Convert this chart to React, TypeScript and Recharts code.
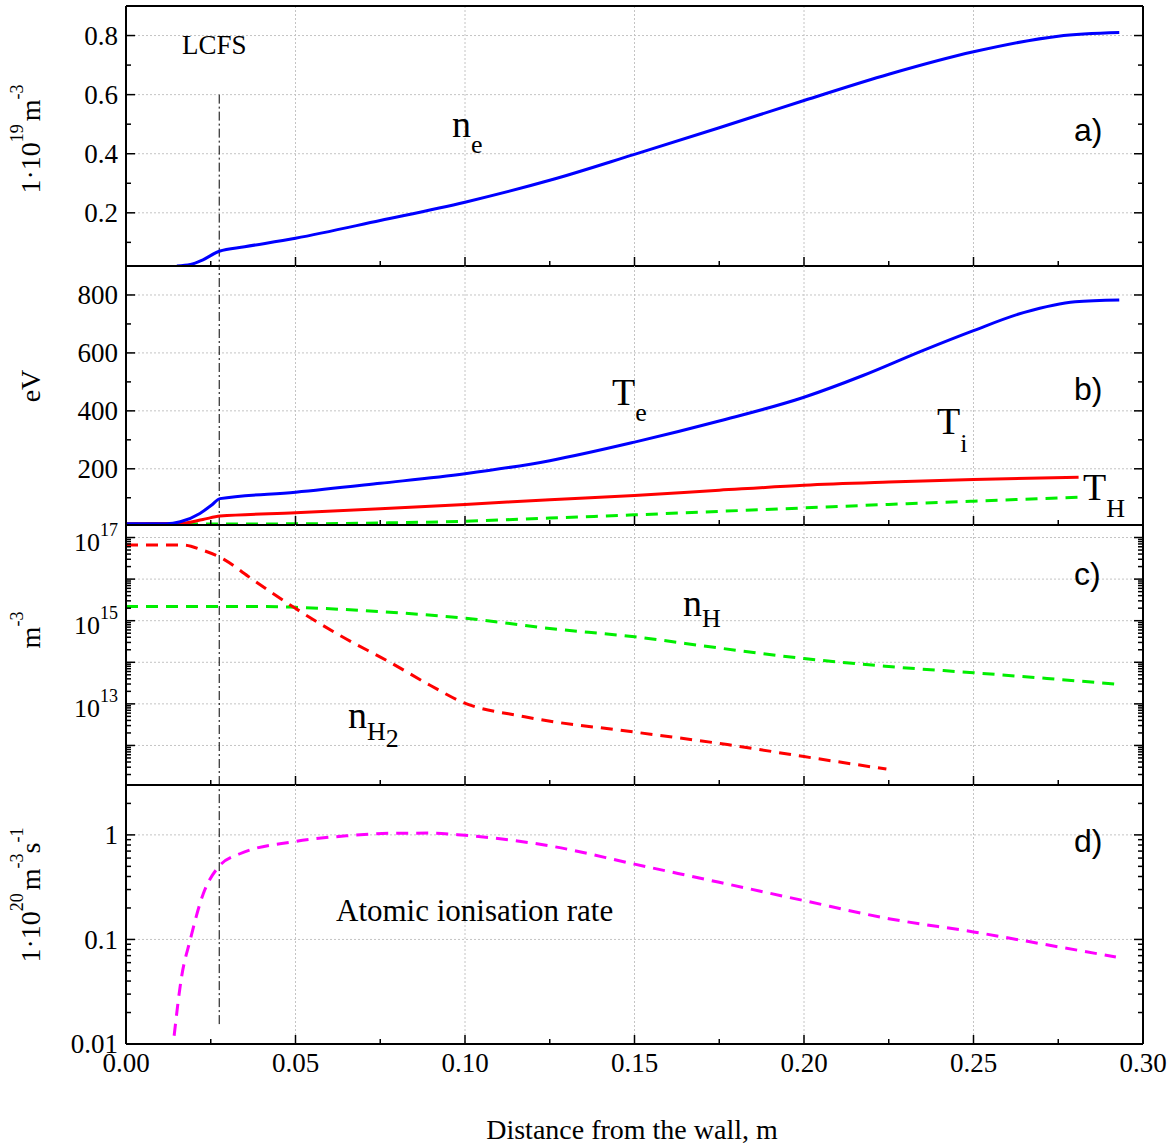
import React from 'react';
import { LineChart, Line, XAxis, YAxis, CartesianGrid, ReferenceLine } from 'recharts';

const SERIF = '"Liberation Serif", "Times New Roman", Times, serif';
const SANS = '"Liberation Sans", Arial, sans-serif';

// shared x axis (distance from the wall, m)
const xMajor = [0, 0.05, 0.1, 0.15, 0.2, 0.25, 0.3];
const xMinor = [0.025, 0.075, 0.125, 0.175, 0.225, 0.275];
const xTickLabels = ['0.00', '0.05', '0.10', '0.15', '0.20', '0.25', '0.30'];
const lcfsX = 0.0275;

// a) electron density, 1e19 m^-3
const neX = [0.015, 0.019, 0.0227, 0.0275, 0.035, 0.05, 0.075, 0.1, 0.125, 0.15, 0.175, 0.2, 0.225, 0.25, 0.275, 0.293];
const neY = [0.02, 0.025, 0.041, 0.07, 0.085, 0.114, 0.174, 0.236, 0.31, 0.398, 0.488, 0.58, 0.669, 0.745, 0.798, 0.81];

// b) temperatures, eV
const teX = [0, 0.012, 0.016, 0.0218, 0.0253, 0.0277, 0.05, 0.075, 0.1, 0.125, 0.15, 0.175, 0.2, 0.2174, 0.235, 0.25, 0.265, 0.28, 0.293];
const teY = [10, 10, 17, 46, 75, 97, 119, 150, 183, 228, 292, 365, 447, 522, 608, 677, 740, 777, 783];
const tiX = [0, 0.016, 0.0227, 0.0277, 0.05, 0.075, 0.1, 0.125, 0.15, 0.175, 0.2, 0.225, 0.25, 0.281];
const tiY = [10, 11, 25, 37, 48, 62, 77, 93, 108, 126, 143, 154, 163, 171];
const thX = [0, 0.05, 0.075, 0.1, 0.125, 0.15, 0.175, 0.2, 0.225, 0.25, 0.281];
const thY = [9, 10, 13, 19, 30, 41, 53, 65, 77, 88, 102];

// c) neutral densities, m^-3
const nh2X = [0, 0.017, 0.0225, 0.029, 0.036, 0.0425, 0.0495, 0.0638, 0.0777, 0.0897, 0.099, 0.1176, 0.15, 0.1774, 0.2, 0.2243];
const nh2Y = [6.6e16, 6.6e16, 5.0e16, 2.95e16, 1.17e16, 5.0e15, 2.1e15, 4.1e14, 1.02e14, 2.8e13, 1.12e13, 4.9e12, 2.1e12, 1.05e12, 5.4e11, 2.7e11];
const nhX = [0, 0.04, 0.05, 0.075, 0.1, 0.125, 0.15, 0.175, 0.2, 0.225, 0.25, 0.293];
const nhY = [2.2e15, 2.2e15, 2.1e15, 1.65e15, 1.15e15, 6.5e14, 4.1e14, 2.2e14, 1.23e14, 7.9e13, 5.6e13, 2.95e13];

// d) atomic ionisation rate, 1e20 m^-3 s^-1
const rateX = [0.0142, 0.0164, 0.0189, 0.0228, 0.0272, 0.0336, 0.0494, 0.065, 0.0777, 0.09, 0.1, 0.125, 0.15, 0.175, 0.2, 0.225, 0.25, 0.275, 0.292];
const rateY = [0.012, 0.044, 0.098, 0.274, 0.49, 0.66, 0.86, 0.98, 1.035, 1.04, 0.99, 0.785, 0.525, 0.352, 0.235, 0.158, 0.118, 0.085, 0.068];

// y ticks
const aMajor = [0.2, 0.4, 0.6, 0.8];
const aMinor = [0.1, 0.3, 0.5, 0.7];
const bMajor = [200, 400, 600, 800];
const bMinor = [100, 300, 500, 700];
const cDecades = [12, 13, 14, 15, 16, 17];
const dMajor = [0.01, 0.1, 1];
const dMinor = [0.02, 0.03, 0.04, 0.05, 0.06, 0.07, 0.08, 0.09, 0.2, 0.3, 0.4, 0.5, 0.6, 0.7, 0.8, 0.9, 2];

const aDomain: [number, number] = [0.02, 0.9];
const bDomain: [number, number] = [6, 900];
const cDomain: [number, number] = [1.12e11, 2e17];
const dDomain: [number, number] = [0.01, 3];

const zip = (xs: number[], ys: number[]) => xs.map((x, i) => ({ x, y: ys[i] }));

const cMajor = cDecades.map((e) => Math.pow(10, e));
const cMinor: number[] = [];
for (let e = 11; e <= 17; e++) {
  for (let k = 2; k <= 9; k++) {
    const v = k * Math.pow(10, e);
    if (v > cDomain[0] && v < cDomain[1]) cMinor.push(v);
  }
}
const sortNum = (a: number[]) => [...a].sort((p, q) => p - q);

type Side = 'left' | 'right' | 'top' | 'bottom';
type LabelFn = (v: number, x: number, y: number) => React.ReactNode;

const near = (a: number, b: number) => Math.abs(a - b) <= Math.abs(b) * 1e-6 + 1e-12;

const makeTick = (side: Side, majors: number[], label?: LabelFn) => (props: any) => {
  const { x, y, payload } = props;
  const v = Number(payload.value);
  const major = majors.some((m) => near(v, m));
  const len = major ? 9 : 5;
  const dx = side === 'left' ? len : side === 'right' ? -len : 0;
  const dy = side === 'bottom' ? -len : side === 'top' ? len : 0;
  return (
    <g>
      <line x1={x} y1={y} x2={x + dx} y2={y + dy} stroke="#000" strokeWidth={1.5} />
      {major && label ? label(v, x, y) : null}
    </g>
  );
};

const plainLabel = (fmt: (v: number) => string): LabelFn => (v, x, y) => (
  <text x={x - 8} y={y} dy="0.35em" textAnchor="end" fontFamily={SERIF} fontSize={27} fill="#000">
    {fmt(v)}
  </text>
);

const powLabel: LabelFn = (v, x, y) => {
  const e = Math.round(Math.log10(v));
  if (e % 2 === 0) return null;
  return (
    <text x={x - 8} y={y + 13} textAnchor="end" fontFamily={SERIF} fontSize={26} fill="#000">
      10<tspan dy={-15} fontSize={18}>{e}</tspan>
    </text>
  );
};

const xLabel: LabelFn = (v, x, y) => {
  const i = xMajor.findIndex((m) => near(v, m));
  return (
    <text x={x} y={y + 28} textAnchor="middle" fontFamily={SERIF} fontSize={27} fill="#000">
      {xTickLabels[i]}
    </text>
  );
};

const axisLine = { stroke: '#000', strokeWidth: 2 };
const xTicks = sortNum([...xMajor, ...xMinor]);

// axes need a non-zero size or recharts skips drawing them
const xAxes = (withTop: boolean, withLabels: boolean) => [
  <XAxis
    key="xb"
    xAxisId={0}
    dataKey="x"
    type="number"
    domain={[0, 0.3]}
    allowDataOverflow
    ticks={xTicks}
    interval={0}
    height={1}
    tickSize={0}
    tickMargin={0}
    tickLine={false}
    axisLine={axisLine}
    tick={makeTick('bottom', xMajor, withLabels ? xLabel : undefined)}
  />,
  withTop ? (
    <XAxis
      key="xt"
      xAxisId="top"
      orientation="top"
      type="number"
      domain={[0, 0.3]}
      allowDataOverflow
      ticks={xTicks}
      interval={0}
      height={1}
      tickSize={0}
      tickMargin={0}
      tickLine={false}
      axisLine={axisLine}
      tick={makeTick('top', xMajor)}
    />
  ) : null,
];

const yAxes = (domain: [number, number], log: boolean, ticks: number[], majors: number[], label: LabelFn) => [
  <YAxis
    key="yl"
    yAxisId={0}
    type="number"
    scale={log ? 'log' : 'linear'}
    domain={domain}
    allowDataOverflow
    ticks={ticks}
    interval={0}
    width={126}
    tickSize={0}
    tickMargin={0}
    tickLine={false}
    axisLine={axisLine}
    tick={makeTick('left', majors, label)}
  />,
  <YAxis
    key="yr"
    yAxisId="r"
    orientation="right"
    type="number"
    scale={log ? 'log' : 'linear'}
    domain={domain}
    allowDataOverflow
    ticks={ticks}
    interval={0}
    width={30}
    tickSize={0}
    tickMargin={0}
    tickLine={false}
    axisLine={axisLine}
    tick={makeTick('right', majors)}
  />,
];

const gridProps = {
  stroke: '#c4c4c4',
  strokeDasharray: '2 2',
  verticalValues: [0.05, 0.1, 0.15, 0.2, 0.25],
};

const lcfs = (y1: number, y2: number) => (
  <ReferenceLine
    segment={[{ x: lcfsX, y: y1 }, { x: lcfsX, y: y2 }]}
    stroke="#000"
    strokeWidth={1}
    strokeDasharray="9 3 2 3"
    ifOverflow="visible"
  />
);

const W = 1173;

const App: React.FC = () => {
  return (
    <div style={{ position: 'absolute', left: 0, top: 0, width: W, height: 1147, background: '#fff' }}>
      <style>{'.recharts-surface{overflow:visible}'}</style>

      {/* a) */}
      <div style={{ position: 'absolute', left: 0, top: 0 }}>
        <LineChart width={W} height={267} margin={{ top: 5, right: 0, bottom: 0, left: 0 }}>
          <CartesianGrid {...gridProps} horizontalValues={aMajor} />
          {xAxes(true, false)}
          {yAxes(aDomain, false, sortNum([...aMajor, ...aMinor]), aMajor, plainLabel((v) => v.toFixed(1)))}
          {lcfs(0.6, aDomain[0])}
          <Line data={zip(neX, neY)} dataKey="y" type="monotone" stroke="#0000ff" strokeWidth={3} dot={false} activeDot={false} isAnimationActive={false} />
        </LineChart>
      </div>

      {/* b) */}
      <div style={{ position: 'absolute', left: 0, top: 266 }}>
        <LineChart width={W} height={260} margin={{ top: 0, right: 0, bottom: 0, left: 0 }}>
          <CartesianGrid {...gridProps} horizontalValues={bMajor} />
          {xAxes(false, false)}
          {yAxes(bDomain, false, sortNum([...bMajor, ...bMinor]), bMajor, plainLabel((v) => String(v)))}
          {lcfs(bDomain[0], bDomain[1])}
          <Line data={zip(thX, thY)} dataKey="y" type="monotone" stroke="#00ee00" strokeWidth={3} strokeDasharray="12 8" dot={false} activeDot={false} isAnimationActive={false} />
          <Line data={zip(tiX, tiY)} dataKey="y" type="monotone" stroke="#ff0000" strokeWidth={3} dot={false} activeDot={false} isAnimationActive={false} />
          <Line data={zip(teX, teY)} dataKey="y" type="monotone" stroke="#0000ff" strokeWidth={3} dot={false} activeDot={false} isAnimationActive={false} />
        </LineChart>
      </div>

      {/* c) */}
      <div style={{ position: 'absolute', left: 0, top: 525 }}>
        <LineChart width={W} height={261} margin={{ top: 0, right: 0, bottom: 0, left: 0 }}>
          <CartesianGrid {...gridProps} horizontalValues={cMajor} />
          {xAxes(false, false)}
          {yAxes(cDomain, true, sortNum([...cMajor, ...cMinor]), cMajor, powLabel)}
          {lcfs(cDomain[0], cDomain[1])}
          <Line data={zip(nhX, nhY)} dataKey="y" type="monotone" stroke="#00ee00" strokeWidth={3} strokeDasharray="12 8" dot={false} activeDot={false} isAnimationActive={false} />
          <Line data={zip(nh2X, nh2Y)} dataKey="y" type="monotone" stroke="#ff0000" strokeWidth={3} strokeDasharray="12 8" dot={false} activeDot={false} isAnimationActive={false} />
        </LineChart>
      </div>

      {/* d) */}
      <div style={{ position: 'absolute', left: 0, top: 785 }}>
        <LineChart width={W} height={260} margin={{ top: 0, right: 0, bottom: 0, left: 0 }}>
          <CartesianGrid {...gridProps} horizontalValues={[0.1, 1]} />
          {xAxes(false, true)}
          {yAxes(dDomain, true, sortNum([...dMajor, ...dMinor]), dMajor, plainLabel((v) => String(v)))}
          {lcfs(0.0155, dDomain[1])}
          <Line data={zip(rateX, rateY)} dataKey="y" type="monotone" stroke="#ff00ff" strokeWidth={3} strokeDasharray="12 8" dot={false} activeDot={false} isAnimationActive={false} />
        </LineChart>
      </div>

      {/* annotations and axis titles */}
      <svg width={W} height={1147} style={{ position: 'absolute', left: 0, top: 0, pointerEvents: 'none' }} fontFamily={SERIF} fill="#000">
        <text x={182} y={54} fontSize={27}>LCFS</text>
        <text x={452} y={137} fontSize={38}>n<tspan dy={16} fontSize={26}>e</tspan></text>
        <text x={612} y={405} fontSize={38}>T<tspan dy={16} fontSize={26}>e</tspan></text>
        <text x={937} y={434} fontSize={38}>T<tspan dy={18} fontSize={26}>i</tspan></text>
        <text x={1083} y={500} fontSize={38}>T<tspan dy={17} fontSize={26}>H</tspan></text>
        <text x={683} y={616} fontSize={38}>n<tspan dy={11} fontSize={26}>H</tspan></text>
        <text x={348} y={728} fontSize={38}>n<tspan dy={12} fontSize={26}>H</tspan><tspan dy={7} fontSize={26}>2</tspan></text>
        <text x={336} y={921} fontSize={31}>Atomic ionisation rate</text>

        <text x={1074} y={141} fontFamily={SANS} fontSize={32}>a)</text>
        <text x={1074} y={400} fontFamily={SANS} fontSize={32}>b)</text>
        <text x={1074} y={585} fontFamily={SANS} fontSize={32}>c)</text>
        <text x={1074} y={852} fontFamily={SANS} fontSize={32}>d)</text>

        <text transform="translate(40,139) rotate(-90)" textAnchor="middle" fontSize={28}>
          1·10<tspan dy={-17} fontSize={18}>19</tspan>
          <tspan dy={17} dx={3}>m</tspan>
          <tspan dy={-17} fontSize={18}>-3</tspan>
        </text>
        <text transform="translate(40,386) rotate(-90)" textAnchor="middle" fontSize={28}>eV</text>
        <text transform="translate(40,630) rotate(-90)" textAnchor="middle" fontSize={28}>
          m<tspan dy={-17} fontSize={18}>-3</tspan>
        </text>
        <text transform="translate(40,895) rotate(-90)" textAnchor="middle" fontSize={28}>
          1·10<tspan dy={-17} fontSize={18}>20</tspan>
          <tspan dy={17} dx={3}>m</tspan>
          <tspan dy={-17} fontSize={18}>-3</tspan>
          <tspan dy={17}>s</tspan>
          <tspan dy={-17} fontSize={18}>-1</tspan>
        </text>

        <text x={632} y={1139} textAnchor="middle" fontSize={28}>Distance from the wall, m</text>
      </svg>
    </div>
  );
};

export default App;
